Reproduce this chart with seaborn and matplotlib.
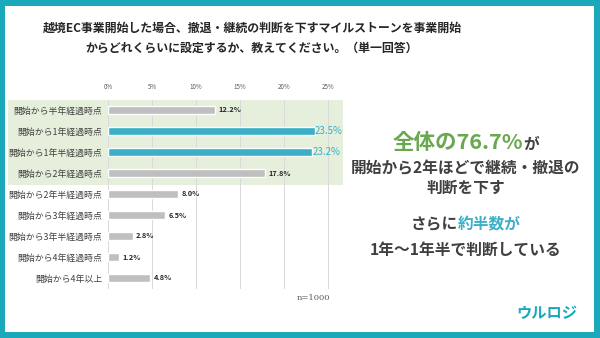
import matplotlib
matplotlib.use("Agg")
import matplotlib.pyplot as plt
from matplotlib.patches import Rectangle
import seaborn as sns
import pandas as pd

categories = ["開始から半年経過時点", "開始から1年経過時点", "開始から1年半経過時点",
              "開始から2年経過時点", "開始から2年半経過時点", "開始から3年経過時点",
              "開始から3年半経過時点", "開始から4年経過時点", "開始から4年以上"]
values = [12.2, 23.5, 23.2, 17.8, 8.0, 6.5, 2.8, 1.2, 4.8]
highlight = [False, True, True, False, False, False, False, False, False]
xticks = [0, 5, 10, 15, 20, 25]
title_lines = ["越境EC事業開始した場合、撤退・継続の判断を下すマイルストーンを事業開始",
               "からどれくらいに設定するか、教えてください。（単一回答）"]
sample_note = "n=1000"
logo = "ウルロジ"

TEAL_FRAME = "#19a9ba"
TEAL = "#3aafc7"
GRAY = "#bfbfbf"
GREEN_BAND = "#e6efdc"
GREEN_TXT = "#6aa84f"
DARK = "#404040"

sns.set_theme(style="white")
plt.rcParams["font.family"] = ["Noto Sans CJK JP", "DejaVu Sans"]

W, H = 600, 338
fig = plt.figure(figsize=(6, 3.38), dpi=100)
fig.patch.set_facecolor(TEAL_FRAME)

def fx(px):
    return px / W

def fy(py):
    return (H - py) / H

# white panel
fig.patches.append(Rectangle((fx(5), fy(332)), fx(594) - fx(5), fy(6) - fy(332),
                             transform=fig.transFigure, facecolor="white",
                             edgecolor="none", zorder=0))
# green highlight band
fig.patches.append(Rectangle((fx(8), fy(185)), fx(343) - fx(8), fy(100) - fy(185),
                             transform=fig.transFigure, facecolor=GREEN_BAND,
                             edgecolor="none", zorder=0.5))

# axes: 0% at x=108, 25% at x=328
x0, x25 = 108, 328
ppu = (x25 - x0) / 25
xmax = (343 - x0) / ppu
ax = fig.add_axes([fx(x0), fy(288.5), fx(343) - fx(x0), fy(99.5) - fy(288.5)])
ax.patch.set_alpha(0)
ax.set_zorder(2)

df = pd.DataFrame({"cat": categories, "val": values})
palette = {c: (TEAL if h else GRAY) for c, h in zip(categories, highlight)}
sns.barplot(data=df, x="val", y="cat", hue="cat", palette=palette, legend=False,
            width=0.34, ax=ax, saturation=1, zorder=3)

ax.set_xlim(0, xmax)
ax.set_ylim(len(categories) - 0.5, -0.5)
ax.set_xticks(xticks)
ax.set_xticklabels([f"{t}%" for t in xticks])
ax.xaxis.tick_top()
ax.tick_params(axis="x", length=0, labelsize=4.5, labelcolor="#595959", pad=6)
ax.tick_params(axis="y", length=0, labelsize=6.4, labelcolor=DARK, pad=4)
ax.set_xlabel("")
ax.set_ylabel("")
for s in ax.spines.values():
    s.set_visible(False)
ax.grid(axis="x", color="#d9d9d9", linewidth=0.7, zorder=1)
ax.grid(axis="y", visible=False)
ax.set_axisbelow(True)

for i, (v, h) in enumerate(zip(values, highlight)):
    if h:
        ax.text(v, i, f"{v:.1f}%", ha="left", va="center", fontsize=7,
                color=TEAL, zorder=4)
    else:
        ax.text(v + 0.4, i, f"{v:.1f}%", ha="left", va="center", fontsize=5.3,
                color="#262626", fontweight="bold", zorder=4)

# title
fig.text(fx(252), fy(28), title_lines[0], ha="center", va="center", fontsize=8.6,
         fontweight="bold", color="#262626")
fig.text(fx(252), fy(48), title_lines[1], ha="center", va="center", fontsize=8.6,
         fontweight="bold", color="#262626")

fig.text(fx(313), fy(298), sample_note, ha="center", va="center", fontsize=6,
         color="#595959", family=["DejaVu Serif"])

fig.text(fx(547), fy(313), logo, ha="center", va="center", fontsize=11,
         fontweight="bold", fontstyle="italic", color=TEAL_FRAME)

# right-hand annotation (multi-colour lines)
fig.canvas.draw()
renderer = fig.canvas.get_renderer()

def colored_line(cx, cy, parts):
    texts = []
    for s, c, fs in parts:
        t = fig.text(0, fy(cy), s, ha="left", va="baseline", fontsize=fs,
                     fontweight="bold", color=c)
        texts.append(t)
    widths = [t.get_window_extent(renderer).width for t in texts]
    total = sum(widths)
    x = cx - total / 2
    for t, w in zip(texts, widths):
        t.set_x(fx(x))
        x += w

CX = 466
FS = 11.3
colored_line(CX, 149, [("全体の76.7%", GREEN_TXT, 15.5), ("が", DARK, FS)])
colored_line(CX, 173, [("開始から2年ほどで継続・撤退の", DARK, FS)])
colored_line(CX, 193, [("判断を下す", DARK, FS)])
colored_line(CX, 229, [("さらに", DARK, FS), ("約半数が", TEAL, FS)])
colored_line(CX, 255, [("1年～1年半で判断している", DARK, FS)])

fig.savefig("out.png", dpi=100, facecolor=fig.get_facecolor())
